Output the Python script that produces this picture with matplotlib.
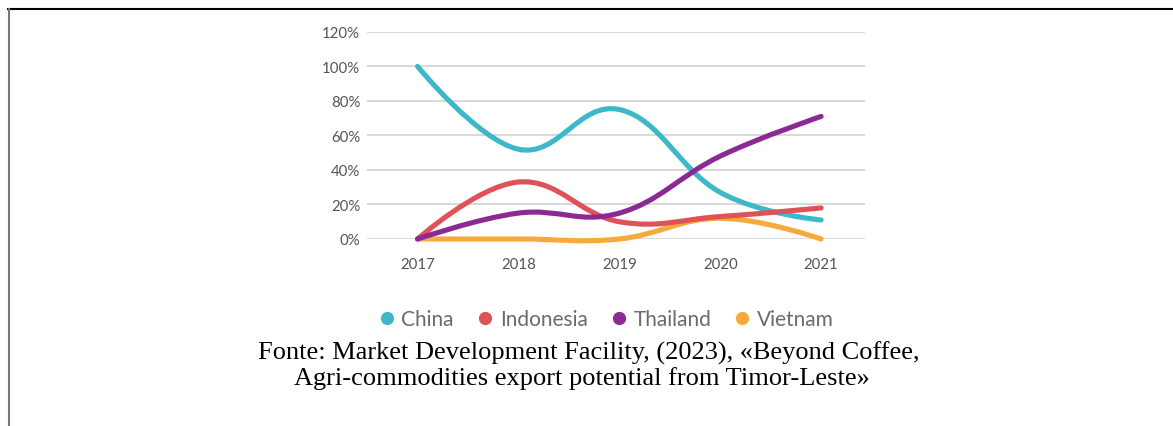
import matplotlib
matplotlib.use("Agg")
import matplotlib.pyplot as plt
from matplotlib.path import Path
from matplotlib.patches import PathPatch
from matplotlib.lines import Line2D

# --- data ---
years = [2017, 2018, 2019, 2020, 2021]
china = [100, 52, 75, 27, 11]
indonesia = [0, 33, 10, 13, 18]
thailand = [0, 15, 15, 48, 71]
vietnam = [0, 0, 0, 12, 0]
series_names = ["China", "Indonesia", "Thailand", "Vietnam"]
series_colors = ["#3DB8C8", "#DF5257", "#8B2A93", "#F6AA3C"]
y_ticks = [0, 20, 40, 60, 80, 100, 120]
caption_lines = ["Fonte: Market Development Facility, (2023), «Beyond Coffee,",
                 "Agri-commodities export potential from Timor-Leste»"]


def smooth_path(xs, ys, tension=0.4):
    # cardinal spline as cubic bezier segments (like chart.js cubic interpolation)
    n = len(xs)
    cps = []
    for i in range(n):
        xp, yp = (xs[i - 1], ys[i - 1]) if i > 0 else (xs[i], ys[i])
        xn, yn = (xs[i + 1], ys[i + 1]) if i < n - 1 else (xs[i], ys[i])
        dx, dy = (xn - xp), (yn - yp)
        f = tension / 2.0 if 0 < i < n - 1 else 0.0
        cps.append(((xs[i] - f * dx, ys[i] - f * dy), (xs[i] + f * dx, ys[i] + f * dy)))
    verts = [(xs[0], ys[0])]
    codes = [Path.MOVETO]
    for i in range(n - 1):
        verts += [cps[i][1], cps[i + 1][0], (xs[i + 1], ys[i + 1])]
        codes += [Path.CURVE4] * 3
    return Path(verts, codes)


fig = plt.figure(figsize=(11.73, 4.27), dpi=100)
ax = fig.add_axes([0.313, 0.438, 0.424, 0.485])
ax.set_xlim(2016.5, 2021.43)
ax.set_ylim(0, 120)

for ys, name, col, z in zip([china, indonesia, thailand, vietnam], series_names, series_colors, [3, 4, 5, 3.5]):
    patch = PathPatch(smooth_path(years, ys), facecolor="none", edgecolor=col,
                      lw=3.7, capstyle="round", joinstyle="round", zorder=z, clip_on=False)
    ax.add_patch(patch)

ax.set_yticks(y_ticks)
ax.set_yticklabels([f"{t}%" for t in y_ticks])
ax.set_xticks(years)
ax.set_xticklabels([str(y) for y in years])
ax.grid(axis="y", color="#d6d6d6", lw=1.3, zorder=0)
ax.tick_params(length=0, labelsize=10.8, labelcolor="#555555")
ax.tick_params(axis="y", pad=5)
ax.tick_params(axis="x", pad=13)
for lab in ax.get_xticklabels() + ax.get_yticklabels():
    lab.set_family("Lato")
for s in ax.spines.values():
    s.set_visible(False)

handles = [Line2D([], [], ls="none", marker="o", markersize=8.5, color=c) for c in series_colors]
leg = fig.legend(handles, series_names, loc="center", bbox_to_anchor=(0.515, 0.25), ncol=4,
                 frameon=False, handletextpad=0.1, columnspacing=0.9, handlelength=1.2,
                 prop={"family": "Lato", "size": 15})
for t in leg.get_texts():
    t.set_color("#6a6a6a")

fig.text(0.502, 1 - 353 / 427, caption_lines[0], ha="center", va="center",
         family="Liberation Serif", fontsize=19, color="black")
fig.text(0.496, 1 - 379 / 427, caption_lines[1], ha="center", va="center",
         family="Liberation Serif", fontsize=19, color="black")

# frame lines (top and left)
fig.add_artist(Line2D([8 / 1173, 1], [1 - 10 / 427, 1 - 10 / 427], color="black", lw=1.5))
fig.add_artist(Line2D([8.5 / 1173, 8.5 / 1173], [0, 1 - 10 / 427], color="#777777", lw=1.5))

fig.savefig("out.png", dpi=100)
